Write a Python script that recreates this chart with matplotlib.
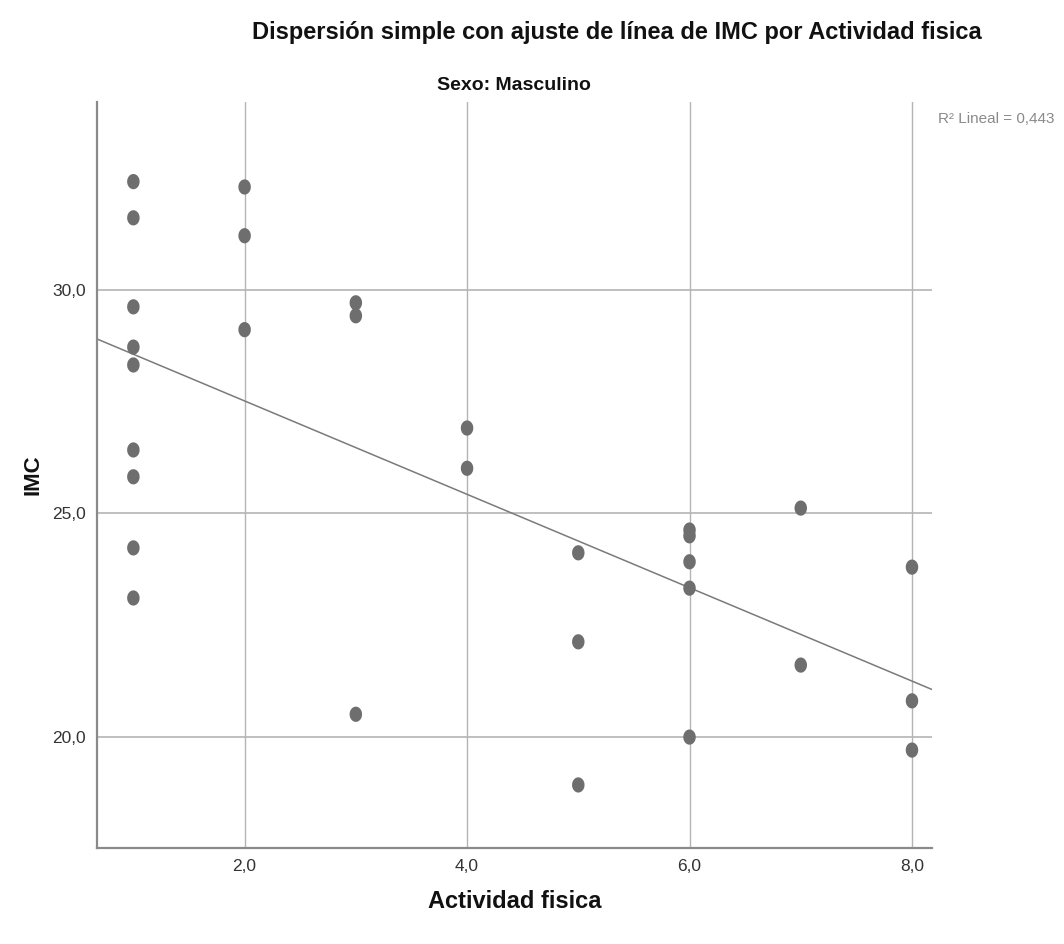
import numpy as np
import matplotlib
matplotlib.use("Agg")
import matplotlib.pyplot as plt
from matplotlib import font_manager
from matplotlib.path import Path

# Data
actividad = [1, 1, 1, 1, 1, 1, 1, 1, 1,
             2, 2, 2,
             3, 3, 3,
             4, 4,
             5, 5, 5,
             6, 6, 6, 6, 6,
             7, 7,
             8, 8, 8]
imc = [32.42, 31.61, 29.62, 28.72, 28.32, 26.42, 25.82, 24.23, 23.11,
       32.30, 31.21, 29.11,
       29.71, 29.42, 20.51,
       26.91, 26.01,
       24.12, 22.13, 18.93,
       24.63, 24.50, 23.92, 23.33, 20.00,
       25.12, 21.61,
       23.80, 20.81, 19.71]
xticks = [2.0, 4.0, 6.0, 8.0]
yticks = [20.0, 25.0, 30.0]
r2_label = "R² Lineal = 0,443"

names = {f.name for f in font_manager.fontManager.ttflist}
narrow = "Liberation Sans Narrow" if "Liberation Sans Narrow" in names else "Liberation Sans"
plt.rcParams['font.family'] = [narrow, 'DejaVu Sans']

fig = plt.figure(figsize=(10.64, 9.44), dpi=100)
ax = fig.add_axes([97/1064, 1-848/944, (932-97)/1064, (848-102)/944])

x = np.array(actividad, float)
y = np.array(imc, float)
xmin, xmax = 0.673, 8.18
ymin, ymax = 17.52, 34.2

ax.set_xlim(xmin, xmax)
ax.set_ylim(ymin, ymax)

# grid
for t in xticks:
    ax.axvline(t, color="#b4b4b4", lw=1.0, zorder=1)
for t in yticks:
    ax.axhline(t, color="#b4b4b4", lw=1.2, zorder=1)

# fit line
b, a = np.polyfit(x, y, 1)
xs = np.array([xmin, xmax])
ax.plot(xs, a + b * xs, color="#7a7a7a", lw=1.1, zorder=2, clip_on=True)

# ellipse marker
th = np.linspace(0, 2*np.pi, 60)
ell = Path(np.column_stack([np.cos(th)*0.82, np.sin(th)]), closed=True)
ax.scatter(x, y, s=120, marker=ell, color="#6e6e6e", edgecolors="none", zorder=3)

ax.set_xticks(xticks)
ax.set_yticks(yticks)
ax.set_xticklabels([f"{v:.1f}".replace(".", ",") for v in xticks])
ax.set_yticklabels([f"{v:.1f}".replace(".", ",") for v in yticks])
ax.tick_params(length=0, labelsize=12.5, colors="#333333", pad=8)

for s in ["top", "right"]:
    ax.spines[s].set_visible(False)
for s in ["left", "bottom"]:
    ax.spines[s].set_color("#8a8a8a")
    ax.spines[s].set_linewidth(1.6)

ax.set_xlabel("Actividad fisica", fontsize=17, fontweight="bold", color="#111111", va="center")
ax.xaxis.set_label_coords(0.5, (848-902)/746)
ax.set_ylabel("IMC", fontsize=16, fontweight="bold", color="#111111", va="center")
ax.yaxis.set_label_coords((33-97)/835, (848-475)/746)

fig.text(617/1064, 1-32/944, "Dispersión simple con ajuste de línea de IMC por Actividad fisica",
         ha="center", va="center", fontsize=17, fontweight="bold", color="#111111")
fig.text(514/1064, 1-85/944, "Sexo: Masculino", ha="center", va="center",
         fontsize=14, fontweight="bold", color="#111111")
fig.text(1055/1064, 1-119/944, r2_label, ha="right", va="center",
         fontsize=11, color="#8a8a8a")

fig.savefig("out.png", dpi=100)
